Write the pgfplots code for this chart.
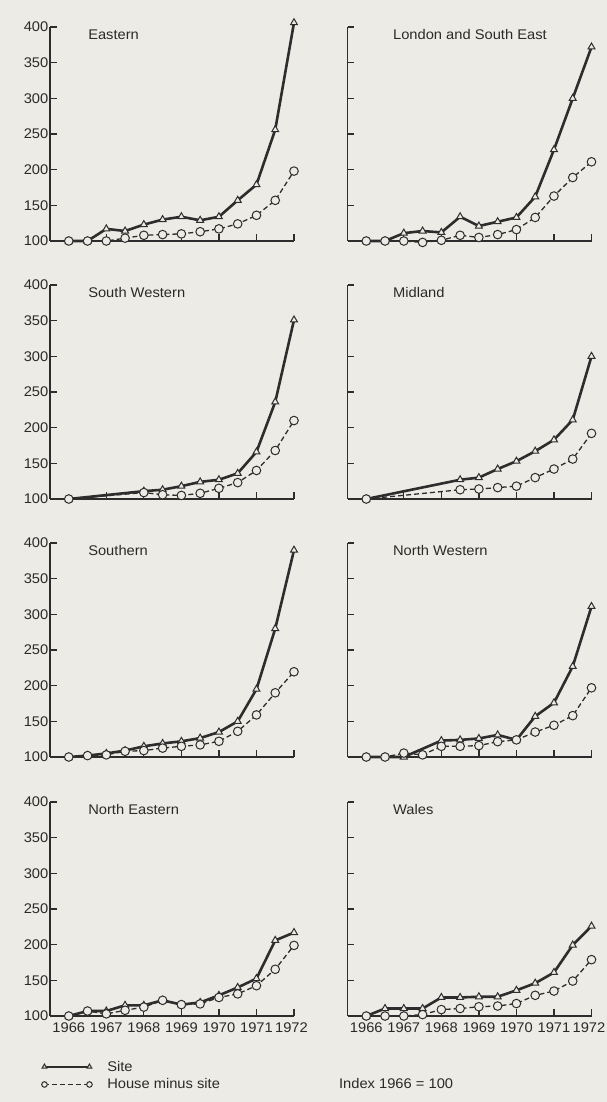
\documentclass[border=0pt]{standalone}
\usepackage{fontspec}
\setmainfont[FakeStretch=1.05]{Liberation Sans}
\usepackage{pgfplots}
\pgfplotsset{compat=1.18}
\definecolor{bg}{RGB}{236,235,229}
\definecolor{ln}{RGB}{45,45,45}
\definecolor{tx}{RGB}{42,42,42}
\newcommand{\fs}{\fontsize{14}{16}\selectfont}
\pgfplotsset{
  panel/.style={
    scale only axis, width=244pt, height=214pt,
    xmin=1965.5, xmax=1972, ymin=100, ymax=400,
    axis x line*=bottom, axis y line*=left,
    axis line style={ln, line width=1.6pt},
    every tick/.style={ln, line width=1.3pt},
    tick align=inside, major tick length=7pt,
    ytick={100,150,...,400},
    xtick={1967,...,1972},
    xticklabels={1967,1968,1969,1970,1971,\hspace*{-5pt}1972},
    extra x ticks={1966},
    extra x tick labels={1966},
    extra x tick style={major tick length=0pt},
    /pgf/number format/1000 sep={},
    /pgf/number format/assume math mode=true,
    tick label style={font=\fs, text=tx},
    yticklabel style={inner sep=1.5pt},
    xticklabel style={yshift=-3pt},
    clip=false, anchor=south west,
  },
  nox/.style={xticklabels={}, extra x tick labels={}},
  noy/.style={yticklabels={}},
  site/.style={ln, line width=2.6pt, mark=triangle*, mark size=4pt,
    mark options={solid, fill=bg, line width=1pt}},
  house/.style={ln, line width=1.3pt, dash pattern=on 5pt off 3pt, mark=*, mark size=4.3pt,
    mark options={solid, fill=bg, line width=1pt}},
}
\newcommand{\ttl}[2]{\node[anchor=west, inner sep=0pt, font=\fs, text=tx] at (rel axis cs:#1,0.965) {#2};}
\begin{document}
\begin{tikzpicture}
\fill[bg] (0pt,0pt) rectangle (607pt,-1102pt);

% Eastern
\begin{axis}[panel, nox, at={(50pt,-241pt)}]
\addplot[site] coordinates {(1966,100)(1966.5,100)(1967,117)(1967.5,114)(1968,123)(1968.5,130)(1969,134)(1969.5,129)(1970,134)(1970.5,157)(1971,179)(1971.5,256)(1972,406)};
\addplot[house] coordinates {(1966,100)(1966.5,100)(1967,100)(1967.5,104)(1968,108)(1968.5,109)(1969,110)(1969.5,113)(1970,117)(1970.5,124)(1971,136)(1971.5,157)(1972,198)};
\ttl{0.156}{Eastern}
\end{axis}

% London and South East
\begin{axis}[panel, nox, noy, at={(347.5pt,-241pt)}]
\addplot[site] coordinates {(1966,100)(1966.5,100)(1967,111)(1967.5,114)(1968,112)(1968.5,134)(1969,121)(1969.5,127)(1970,133)(1970.5,162)(1971,228)(1971.5,300)(1972,372)};
\addplot[house] coordinates {(1966,100)(1966.5,100)(1967,100)(1967.5,98)(1968,101)(1968.5,108)(1969,105)(1969.5,109)(1970,116)(1970.5,133)(1971,163)(1971.5,189)(1972,211)};
\ttl{0.186}{London and South East}
\end{axis}

% South Western
\begin{axis}[panel, nox, at={(50pt,-499pt)}]
\addplot[site] coordinates {(1966,100)(1968,111)(1968.5,113)(1969,118)(1969.5,124)(1970,127)(1970.5,136)(1971,166)(1971.5,236)(1972,351)};
\addplot[house] coordinates {(1966,100)(1968,109)(1968.5,106)(1969,105)(1969.5,108)(1970,115)(1970.5,123)(1971,140)(1971.5,168)(1972,210)};
\ttl{0.156}{South Western}
\end{axis}

% Midland
\begin{axis}[panel, nox, noy, at={(347.5pt,-499pt)}]
\addplot[site] coordinates {(1966,100)(1968.5,127)(1969,130)(1969.5,142)(1970,153)(1970.5,167)(1971,183)(1971.5,211)(1972,300)};
\addplot[house] coordinates {(1966,100)(1968.5,113)(1969,114)(1969.5,116)(1970,118)(1970.5,130)(1971,142)(1971.5,156)(1972,192)};
\ttl{0.186}{Midland}
\end{axis}

% Southern
\begin{axis}[panel, nox, at={(50pt,-757pt)}]
\addplot[site] coordinates {(1966,100)(1966.5,102)(1967,105)(1967.5,109)(1968,115)(1968.5,119)(1969,122)(1969.5,126.5)(1970,135)(1970.5,150)(1971,195)(1971.5,280)(1972,390)};
\addplot[house] coordinates {(1966,100)(1966.5,102)(1967,103)(1967.5,108)(1968,109)(1968.5,112.5)(1969,115)(1969.5,117)(1970,122)(1970.5,136)(1971,159)(1971.5,190)(1972,219.5)};
\ttl{0.156}{Southern}
\end{axis}

% North Western
\begin{axis}[panel, nox, noy, at={(347.5pt,-757pt)}]
\addplot[site] coordinates {(1966,100)(1966.5,100)(1967,100)(1968,123)(1968.5,124)(1969,126)(1969.5,131)(1970,124)(1970.5,157)(1971,176)(1971.5,227)(1972,311)};
\addplot[house] coordinates {(1966,100)(1966.5,100)(1967,105.5)(1967.5,103)(1968,115)(1968.5,115)(1969,116)(1969.5,121.5)(1970,124)(1970.5,135)(1971,144.5)(1971.5,158)(1972,197)};
\ttl{0.186}{North Western}
\end{axis}

% North Eastern
\begin{axis}[panel, at={(50pt,-1016pt)},
  legend style={at={(axis description cs:-0.035,-0.2)}, anchor=north west, draw=none, fill=none,
    font=\fs, text=tx, inner sep=0pt, row sep=2pt,
    /tikz/every odd column/.append style={column sep=13pt}},
  legend cell align=left,
  legend image code/.code={\draw[#1, mark size=2.8pt] plot coordinates {(0pt,0pt) (45pt,0pt)};},
]
\addplot[site] coordinates {(1966,100)(1966.5,107)(1967,107)(1967.5,115)(1968,115)(1968.5,122)(1969,116)(1969.5,119)(1970,129)(1970.5,140)(1971,152.5)(1971.5,206)(1972,217)};
\addlegendentry{Site}
\addplot[house] coordinates {(1966,100)(1966.5,107)(1967,103)(1967.5,108)(1968,112.5)(1968.5,122)(1969,116)(1969.5,117)(1970,126)(1970.5,131)(1971,142.5)(1971.5,165.5)(1972,199)};
\addlegendentry{House minus site}
\ttl{0.156}{North Eastern}
\node[anchor=west, inner sep=0pt, font=\fs, text=tx] at (axis description cs:1.184,-0.313) {Index 1966 = 100};
\end{axis}

% Wales
\begin{axis}[panel, noy, at={(347.5pt,-1016pt)}]
\addplot[site] coordinates {(1966,100)(1966.5,110.5)(1967,110.5)(1967.5,110.5)(1968,126)(1968.5,126)(1969,127)(1969.5,127)(1970,136)(1970.5,146)(1971,161)(1971.5,199.5)(1972,226)};
\addplot[house] coordinates {(1966,100)(1966.5,100)(1967,100)(1967.5,102)(1968,109)(1968.5,110.5)(1969,113)(1969.5,114)(1970,117.5)(1970.5,129)(1971,135)(1971.5,149)(1972,179)};
\ttl{0.186}{Wales}
\end{axis}

\pgfresetboundingbox
\path (0pt,0pt) rectangle (607pt,-1102pt);
\end{tikzpicture}
\end{document}
